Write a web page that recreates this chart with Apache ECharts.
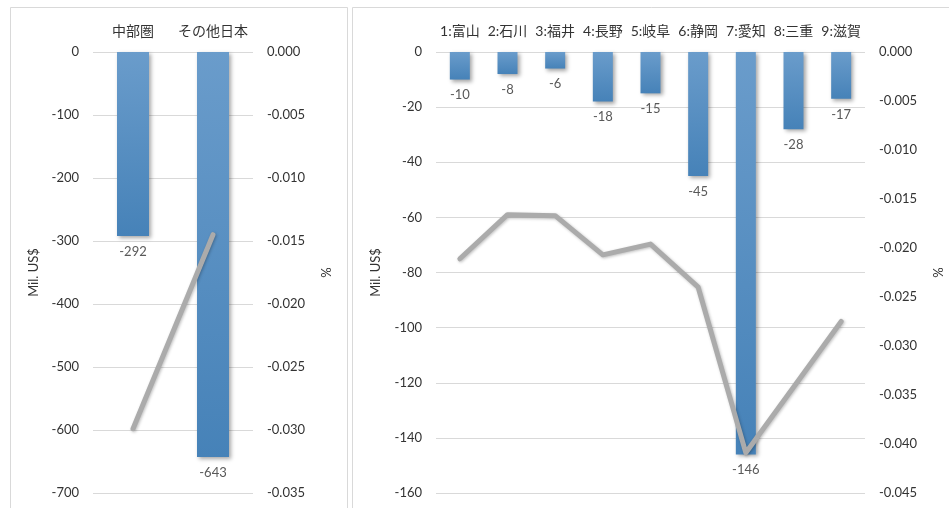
<!DOCTYPE html>
<html>
<head>
<meta charset="utf-8">
<script src="https://cdn.jsdelivr.net/npm/echarts@6/dist/echarts.min.js"></script>
<style>
  html, body { margin: 0; padding: 0; background: #fff; }
  #chart { width: 949px; height: 508px; }
</style>
</head>
<body>
<div id="chart"></div>
<script>
// Regional totals (left panel)
const regionCategories = ['中部圏', 'その他日本'];
const regionValues = [-292, -643];          // Mil. US$
const regionShares = [-0.0299, -0.0145];    // %

// Prefecture breakdown (right panel)
const prefCategories = ['1:富山', '2:石川', '3:福井', '4:長野', '5:岐阜', '6:静岡', '7:愛知', '8:三重', '9:滋賀'];
const prefValues = [-10, -8, -6, -18, -15, -45, -146, -28, -17];   // Mil. US$
const prefShares = [-0.0211, -0.0166, -0.0167, -0.0207, -0.0196, -0.0240, -0.0409, -0.0342, -0.0275]; // %

// Axis ranges
const regionAxis = { min: -700, max: 0, interval: 100 };
const regionShareAxis = { min: -0.035, max: 0, interval: 0.005 };
const prefAxis = { min: -160, max: 0, interval: 20 };
const prefShareAxis = { min: -0.045, max: 0, interval: 0.005 };

const FONT = "Lato, 'Noto Sans CJK JP', sans-serif";
const TEXT = '#333333';
const GRID = '#d9d9d9';

const barColor = new echarts.graphic.LinearGradient(0, 0, 0, 1, [
  { offset: 0, color: '#6a9ccb' },
  { offset: 1, color: '#4682b8' }
]);

function pct(v) {
  if (Math.abs(v) < 1e-9) return '0.000';
  return v.toFixed(3);
}

function valueAxis(gridIndex, range, side, name, nameGap, isPct) {
  return {
    type: 'value',
    gridIndex: gridIndex,
    position: side,
    min: range.min,
    max: range.max,
    interval: range.interval,
    name: name,
    nameLocation: 'middle',
    nameGap: nameGap,
    nameRotate: 90,
    nameTextStyle: { color: TEXT, fontSize: 13, fontFamily: FONT },
    axisLine: { show: false },
    axisTick: { show: false },
    axisLabel: {
      color: TEXT, fontSize: 13, fontFamily: FONT, margin: 14,
      formatter: isPct ? pct : function (v) { return String(v); }
    },
    splitLine: { show: !isPct, lineStyle: { color: GRID, width: 1 } }
  };
}

function catAxis(gridIndex, cats) {
  return {
    type: 'category',
    gridIndex: gridIndex,
    position: 'top',
    data: cats,
    axisLine: { show: false },
    axisTick: { show: false },
    axisLabel: { color: TEXT, fontSize: 14, fontFamily: FONT, margin: 14, interval: 0 }
  };
}

function barSeries(xi, yi, values, width) {
  return {
    type: 'bar',
    xAxisIndex: xi,
    yAxisIndex: yi,
    data: values,
    barWidth: width,
    itemStyle: {
      color: barColor,
      shadowColor: 'rgba(0,0,0,0.35)',
      shadowBlur: 4,
      shadowOffsetX: 2,
      shadowOffsetY: 2
    },
    label: {
      show: true,
      position: 'bottom',
      distance: 9,
      color: '#595959',
      fontSize: 13,
      fontFamily: FONT
    },
    z: 2
  };
}

function lineSeries(xi, yi, values) {
  return {
    type: 'line',
    xAxisIndex: xi,
    yAxisIndex: yi,
    data: values,
    symbol: 'none',
    lineStyle: {
      color: '#ababab',
      width: 5,
      cap: 'round',
      join: 'round',
      shadowColor: 'rgba(0,0,0,0.25)',
      shadowBlur: 3,
      shadowOffsetX: 1,
      shadowOffsetY: 1
    },
    z: 3
  };
}

const chart = echarts.init(document.getElementById('chart'), null, { renderer: 'canvas' });

chart.setOption({
  backgroundColor: '#ffffff',
  animation: false,
  graphic: [
    { type: 'rect', shape: { x: 10.5, y: 7.5, width: 337, height: 520 },
      style: { fill: 'none', stroke: GRID, lineWidth: 1 }, z: -10 },
    { type: 'rect', shape: { x: 352.5, y: 7.5, width: 620, height: 520 },
      style: { fill: 'none', stroke: GRID, lineWidth: 1 }, z: -10 }
  ],
  grid: [
    { left: 93, width: 160, top: 52, height: 441 },
    { left: 436, width: 429, top: 52, height: 441 }
  ],
  xAxis: [
    catAxis(0, regionCategories),
    catAxis(1, prefCategories)
  ],
  yAxis: [
    valueAxis(0, regionAxis, 'left', 'Mil. US$', 53, false),
    valueAxis(0, regionShareAxis, 'right', '%', 67, true),
    valueAxis(1, prefAxis, 'left', 'Mil. US$', 54, false),
    valueAxis(1, prefShareAxis, 'right', '%', 67, true)
  ],
  series: [
    barSeries(0, 0, regionValues, 32),
    lineSeries(0, 1, regionShares),
    barSeries(1, 2, prefValues, 20),
    lineSeries(1, 3, prefShares)
  ]
});
</script>
</body>
</html>
